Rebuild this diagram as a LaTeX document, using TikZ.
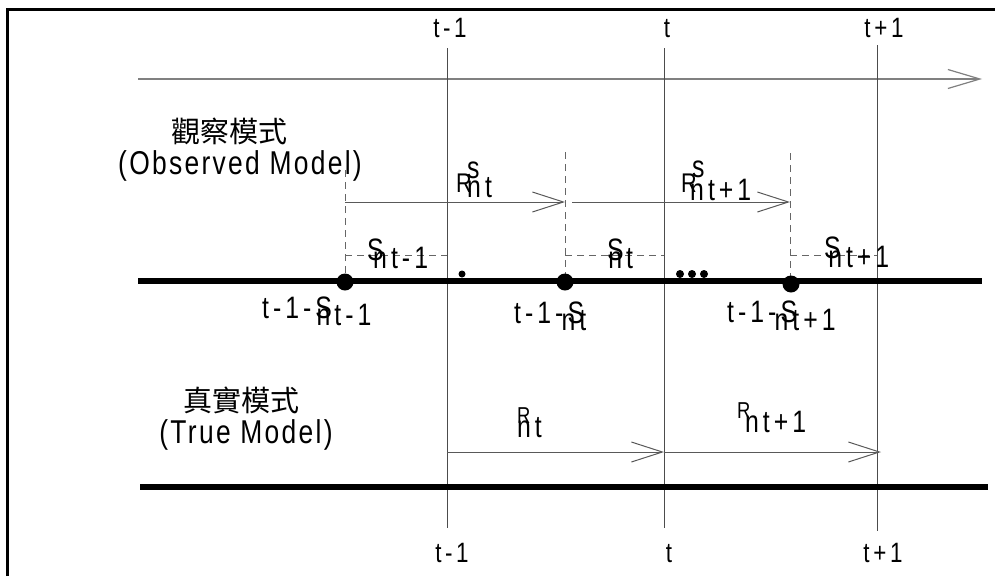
\documentclass[tikz,border=0pt]{standalone}
\usepackage{fontspec}
\setmainfont{Liberation Sans}[FakeStretch=0.8,LetterSpace=7]
\newfontfamily\widef{Liberation Sans}[FakeStretch=0.8,LetterSpace=13]
\newfontfamily\cjk{Noto Sans CJK TC}
\usetikzlibrary{arrows.meta}
\newcommand\Rsm[1]{{\fontsize{#1}{#1}\selectfont R}}
\begin{document}
\begin{tikzpicture}[x=1pt,y=-1pt,
  frame/.style={line width=3pt,black},
  axisline/.style={line width=1.8pt,black!50},
  tick/.style={line width=1pt,black!70},
  thick line/.style={line width=5.5pt,black},
  dline/.style={line width=1pt,black!60,dash pattern=on 7pt off 5pt},
  arr/.style={line width=1pt,black!65,-{Straight Barb[length=31pt,width=20pt,line width=1pt]}},
  bigdot/.style={circle,fill=black,inner sep=0pt,minimum size=17pt},
  smalldot/.style={circle,fill=black,inner sep=0pt,minimum size=7pt},
  middot/.style={circle,fill=black,inner sep=0pt,minimum size=8pt},
  lbl/.style={inner sep=0pt,anchor=base west,font=\widef\fontsize{31}{34}\selectfont},
  mlbl/.style={inner sep=0pt,anchor=base,font=\fontsize{33}{36}\selectfont},
  tlbl/.style={inner sep=0pt,anchor=base,font=\widef\fontsize{28}{32}\selectfont},
  cjklbl/.style={inner sep=0pt,font=\cjk\fontsize{29}{32}\selectfont}]
\useasboundingbox (0,0) rectangle (995,576);
% frame
\coordinate (fBL) at (7,576);
\coordinate (fTL) at (7,9);
\coordinate (fTR) at (995,9);
\draw[frame] (fBL) -- (fTL) -- (fTR);
% time axis
\coordinate (ax0) at (138,79);
\coordinate (ax1) at (982,79);
\draw[axisline,-{Straight Barb[length=32pt,width=19pt,line width=1.2pt]}] (ax0) -- (ax1);
% vertical time lines
\coordinate (v1t) at (447,48); \coordinate (v1b) at (447,528);
\coordinate (v2t) at (664,48); \coordinate (v2b) at (664,528);
\coordinate (v3t) at (877,45); \coordinate (v3b) at (877,531);
\draw[tick] (v1t) -- (v1b);
\draw[tick] (v2t) -- (v2b);
\draw[tick] (v3t) -- (v3b);
% thick lines
\coordinate (o0) at (138,281); \coordinate (o1) at (982,281);
\coordinate (r0) at (140,487); \coordinate (r1) at (988,487);
\draw[thick line] (o0) -- (o1);
\draw[thick line] (r0) -- (r1);
% dashed verticals
\coordinate (d1t) at (345,170); \coordinate (d1b) at (345,281);
\coordinate (d2t) at (565,152); \coordinate (d2b) at (565,281);
\coordinate (d3t) at (790,153); \coordinate (d3b) at (790,281);
\draw[dline] (d1t) -- (d1b);
\draw[dline] (d2t) -- (d2b);
\draw[dline] (d3t) -- (d3b);
% dashed horizontals
\coordinate (h1a) at (345,255); \coordinate (h1b) at (447,255);
\coordinate (h2a) at (565,255); \coordinate (h2b) at (664,255);
\coordinate (h3a) at (790,255); \coordinate (h3b) at (877,255);
\draw[dline] (h1a) -- (h1b);
\draw[dline] (h2a) -- (h2b);
\draw[dline] (h3a) -- (h3b);
% observed arrows
\coordinate (a1a) at (345,202); \coordinate (a1b) at (565,202);
\coordinate (a2a) at (572,202); \coordinate (a2b) at (790,202);
\draw[arr] (a1a) -- (a1b);
\draw[arr] (a2a) -- (a2b);
% true arrows
\coordinate (b1a) at (447,452); \coordinate (b1b) at (664,452);
\coordinate (b2b) at (881,452);
\draw[arr] (b1a) -- (b1b);
\draw[arr] (b1b) -- (b2b);
% dots
\node[bigdot] (p1) at (345,282) {};
\node[bigdot] (p2) at (565,282) {};
\node[bigdot] (p3) at (791,284) {};
\node[smalldot] (q1) at (462,274) {};
\node[middot] (e1) at (680,274) {};
\node[middot] (e2) at (692,274) {};
\node[middot] (e3) at (704,274) {};
% time labels
\node[tlbl] (tt1) at (450,37) {t-1};
\node[tlbl] (tt2) at (667,37) {t};
\node[tlbl] (tt3) at (884,37) {t+1};
\node[tlbl] (bt1) at (452,562) {t-1};
\node[tlbl] (bt2) at (669,562) {t};
\node[tlbl] (bt3) at (883,562) {t+1};
% model labels
\node[cjklbl] (obscn) at (229,131) {觀察模式};
\node[mlbl] (obsen) at (240,174) {(Observed Model)};
\node[cjklbl] (trucn) at (241,400) {真實模式};
\node[mlbl] (truen) at (246,443) {(True Model)};
% R^s labels
\node[lbl] (rs1) at (456,192) {\Rsm{27}\kern-4.6pt\rlap{\raisebox{14pt}{s}}\raisebox{-5pt}{nt}};
\node[lbl] (rs2) at (681,192) {\Rsm{27}\kern-6.6pt\rlap{\kern2pt\raisebox{15pt}{s}}\raisebox{-8pt}{nt+1}};
% S labels
\node[lbl] (s1) at (367,260) {S\kern-10.5pt\raisebox{-8pt}{nt-1}};
\node[lbl] (s2) at (607,260) {S\kern-15.5pt\raisebox{-8pt}{nt}};
\node[lbl] (s3) at (824,258) {S\kern-12.5pt\raisebox{-9pt}{nt+1}};
% start labels
\node[lbl] (st1) at (262,318) {t-1-S\kern-15.5pt\raisebox{-7pt}{nt-1}};
\node[lbl] (st2) at (514,323) {t-1-S\kern-22.5pt\raisebox{-7pt}{nt}};
\node[lbl] (st3) at (727,322) {t-1-S\kern-22.5pt\raisebox{-8pt}{nt+1}};
% R labels
\node[lbl] (r1l) at (517,423) {\Rsm{23}\kern-13.4pt\raisebox{-14pt}{nt}};
\node[lbl] (r2l) at (737,418) {\Rsm{23}\kern-5.4pt\raisebox{-14pt}{nt+1}};
\end{tikzpicture}
\end{document}
